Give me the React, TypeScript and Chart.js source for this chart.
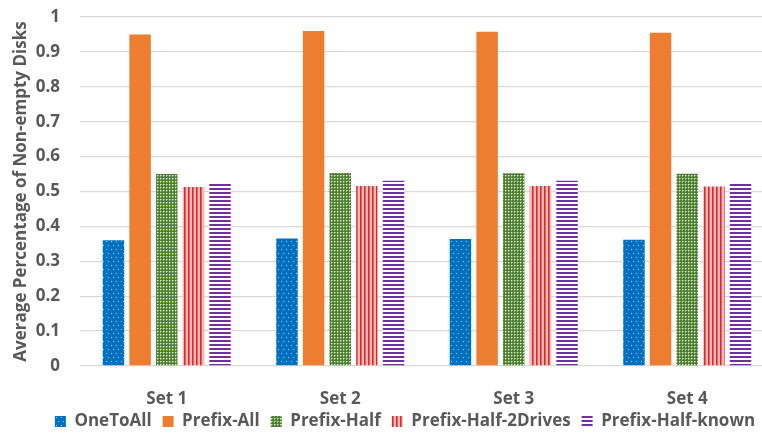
import { useEffect, useRef } from "react";
import { Chart, registerables } from "chart.js";

Chart.register(...registerables);

// Categories and series values
const categories = ["Set 1", "Set 2", "Set 3", "Set 4"];
const seriesNames = ["OneToAll", "Prefix-All", "Prefix-Half", "Prefix-Half-2Drives", "Prefix-Half-known"];
const oneToAll = [0.36, 0.365, 0.364, 0.362];
const prefixAll = [0.95, 0.96, 0.958, 0.955];
const prefixHalf = [0.55, 0.553, 0.552, 0.551];
const prefixHalf2Drives = [0.513, 0.516, 0.516, 0.514];
const prefixHalfKnown = [0.525, 0.531, 0.531, 0.525];
const yTickLabels = ["0", "0.1", "0.2", "0.3", "0.4", "0.5", "0.6", "0.7", "0.8", "0.9", "1"];
const yAxisTitle = "Average Percentage of Non-empty Disks";

const FONT_FAMILY = "'Open Sans', Lato, 'Liberation Sans', sans-serif";
const TEXT_COLOR = "#595959";
const GRID_COLOR = "#D9D9D9";

type Painter = (ctx: CanvasRenderingContext2D) => void;

function makePattern(w: number, h: number, paint: Painter): CanvasPattern | string {
  const c = document.createElement("canvas");
  c.width = w;
  c.height = h;
  const ctx = c.getContext("2d");
  if (!ctx) return "#888";
  paint(ctx);
  return ctx.createPattern(c, "repeat") || "#888";
}

function buildFills() {
  // blue with sparse light dots
  const dots = makePattern(5, 8, (ctx) => {
    ctx.fillStyle = "#0070C0";
    ctx.fillRect(0, 0, 5, 8);
    ctx.fillStyle = "rgba(170,215,250,0.95)";
    ctx.fillRect(1, 1, 1, 1);
    ctx.fillRect(3, 5, 1, 1);
  });
  // green fine checker
  const checker = makePattern(3, 3, (ctx) => {
    ctx.fillStyle = "#4F7F30";
    ctx.fillRect(0, 0, 3, 3);
    ctx.fillStyle = "#E4EEDC";
    ctx.fillRect(1, 1, 1, 1);
    ctx.fillStyle = "#8DB574";
    ctx.fillRect(2, 1, 1, 1);
    ctx.fillRect(1, 2, 1, 1);
  });
  // red vertical stripes
  const vStripes = makePattern(4, 4, (ctx) => {
    ctx.fillStyle = "#F5B8B8";
    ctx.fillRect(0, 0, 4, 4);
    ctx.fillStyle = "#D22C2C";
    ctx.fillRect(0, 0, 1, 4);
    ctx.fillStyle = "#E46464";
    ctx.fillRect(1, 0, 1, 4);
  });
  // purple horizontal stripes
  const hStripes = makePattern(4, 4, (ctx) => {
    ctx.fillStyle = "#FFFFFF";
    ctx.fillRect(0, 0, 4, 4);
    ctx.fillStyle = "#7030A0";
    ctx.fillRect(0, 0, 4, 2);
  });
  return [dots, "#ED7D31", checker, vStripes, hStripes];
}

export default function App() {
  const canvasRef = useRef<HTMLCanvasElement | null>(null);

  useEffect(() => {
    const canvas = canvasRef.current;
    if (!canvas) return;
    const fills = buildFills();
    const values = [oneToAll, prefixAll, prefixHalf, prefixHalf2Drives, prefixHalfKnown];
    const font = { family: FONT_FAMILY, size: 17, weight: "bold" as const };

    const chart = new Chart(canvas, {
      type: "bar",
      data: {
        labels: categories,
        datasets: seriesNames.map((name, i) => ({
          label: name,
          data: values[i],
          backgroundColor: fills[i] as any,
          borderWidth: 0,
          categoryPercentage: 0.768,
          barPercentage: 0.805,
        })),
      },
      options: {
        responsive: false,
        animation: false,
        layout: { padding: { top: 17, right: 0, left: 0, bottom: 0 } },
        plugins: {
          tooltip: { enabled: false },
          legend: {
            position: "bottom",
            labels: {
              color: TEXT_COLOR,
              font,
              boxWidth: 11,
              boxHeight: 11,
              padding: 11,
            },
          },
        },
        scales: {
          x: {
            grid: { display: false },
            border: { display: false },
            ticks: { color: TEXT_COLOR, font, padding: 15 },
            afterFit: (scale: any) => {
              scale.height = 36;
              // keep category labels visible past the fixed axis height
              scale._computeLabelArea = () => undefined;
            },
          },
          y: {
            min: 0,
            max: 1,
            grid: {
              color: GRID_COLOR,
              lineWidth: 1.3,
              drawTicks: true,
              tickLength: 17,
              tickColor: "rgba(0,0,0,0)",
            },
            border: { display: false },
            ticks: {
              stepSize: 0.1,
              color: TEXT_COLOR,
              font,
              padding: 3,
              callback: (_v: any, index: number) => yTickLabels[index],
            },
            title: {
              display: true,
              text: yAxisTitle,
              color: TEXT_COLOR,
              font,
              padding: { top: 10.5, bottom: 0 },
            },
            afterFit: (scale: any) => {
              scale.width = 80;
            },
          },
          // empty right-hand gutter
          gutter: {
            type: "linear",
            position: "right",
            display: true,
            grid: { display: false },
            border: { display: false },
            ticks: { display: false },
            afterFit: (scale: any) => {
              scale.width = 36;
            },
          },
        },
      },
    });
    return () => chart.destroy();
  }, []);

  return (
    <div
      style={{
        position: "fixed",
        left: 0,
        top: 0,
        width: 762,
        height: 433,
        overflow: "hidden",
        background: "#FFFFFF",
      }}
    >
      <canvas ref={canvasRef} width={810} height={440} style={{ display: "block" }} />
    </div>
  );
}
